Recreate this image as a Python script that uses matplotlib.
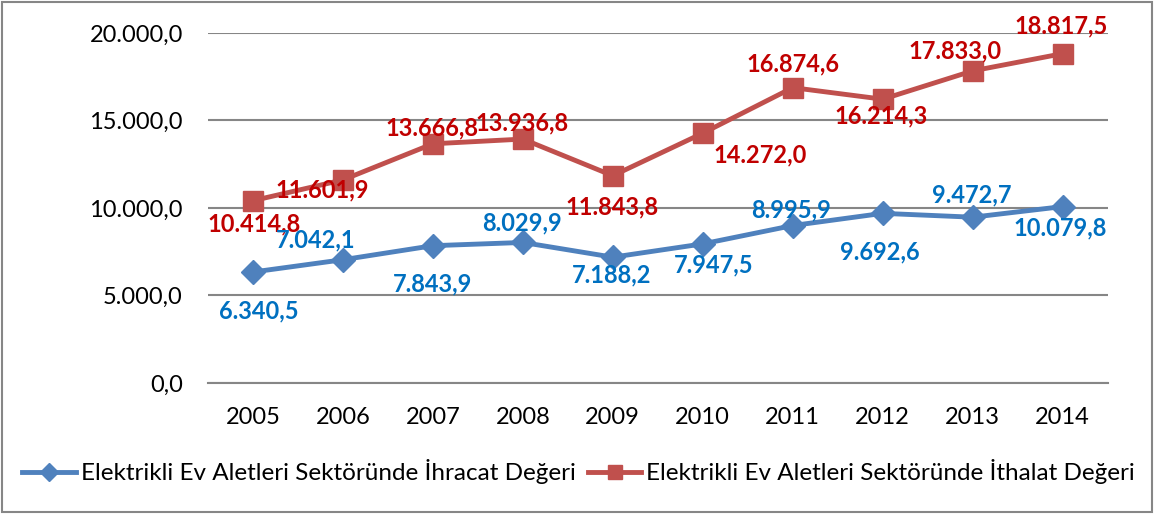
import matplotlib.pyplot as plt
from matplotlib.patches import Rectangle

plt.rcParams['font.family'] = ['Lato', 'DejaVu Sans']

# data
years = ['2005', '2006', '2007', '2008', '2009', '2010', '2011', '2012', '2013', '2014']
ihracat = [6340.5, 7042.1, 7843.9, 8029.9, 7188.2, 7947.5, 8995.9, 9692.6, 9472.7, 10079.8]
ithalat = [10414.8, 11601.9, 13666.8, 13936.8, 11843.8, 14272.0, 16874.6, 16214.3, 17833.0, 18817.5]
ihracat_name = 'Elektrikli Ev Aletleri Sektöründe İhracat Değeri'
ithalat_name = 'Elektrikli Ev Aletleri Sektöründe İthalat Değeri'

# label offsets (pixels) from each point
ihr_off = [(6, -39), (-27, 20), (0, -38), (-1, 20), (-1, -18),
           (11, -21), (-2, 16), (-3, -39), (-1, 22), (-2, -21)]
ith_off = [(1, -23), (-21, -10), (-1, 16), (-1, 16), (-1, -31),
           (57, -22), (0, 24), (-2, -17), (-18, 20), (-1, 28)]


def fmt(v):
    s = f'{v:,.1f}'
    return s.replace(',', 'X').replace('.', ',').replace('X', '.')


fig = plt.figure(figsize=(11.55, 5.14), dpi=100)
ax = fig.add_axes([0.180, 0.2549, 0.779, 0.681])

x = list(range(len(years)))
ax.plot(x, ihracat, color='#4F81BD', linewidth=3.5, marker='D', markersize=12,
        label=ihracat_name, zorder=3)
ax.plot(x, ithalat, color='#C0504D', linewidth=3.5, marker='s', markersize=14,
        label=ithalat_name, zorder=3)

for i in x:
    ax.annotate(fmt(ihracat[i]), (i, ihracat[i]), textcoords='offset pixels',
                xytext=ihr_off[i], ha='center', va='center', fontsize=17,
                fontweight='bold', color='#0070C0', zorder=4)
    ax.annotate(fmt(ithalat[i]), (i, ithalat[i]), textcoords='offset pixels',
                xytext=ith_off[i], ha='center', va='center', fontsize=17,
                fontweight='bold', color='#C00000', zorder=4)

ax.set_xlim(-0.5, len(years) - 0.5)
ax.set_ylim(0, 20000)
ax.set_yticks([0, 5000, 10000, 15000, 20000])
ax.set_yticklabels([fmt(v) for v in [0, 5000, 10000, 15000, 20000]])
ax.set_xticks(x)
ax.set_xticklabels(years)
ax.tick_params(axis='both', length=0, labelsize=17)
ax.tick_params(axis='y', pad=18)
ax.tick_params(axis='x', pad=17)
ax.grid(axis='y', color='#868686', linewidth=1.5)
ax.set_axisbelow(True)
for s in ['top', 'right', 'left']:
    ax.spines[s].set_visible(False)
ax.spines['bottom'].set_color('#868686')
ax.spines['bottom'].set_linewidth(1.5)

fig.legend(loc='center', bbox_to_anchor=(0.501, 0.082), ncol=2, frameon=False,
           fontsize=17.5, handlelength=2.2, handletextpad=0.2, columnspacing=0.5,
           markerscale=0.75)

fig.patches.append(Rectangle((0.002, 0.004), 0.995, 0.992, transform=fig.transFigure,
                             fill=False, edgecolor='#868686', linewidth=1.5))

plt.savefig('out.png', dpi=100)
